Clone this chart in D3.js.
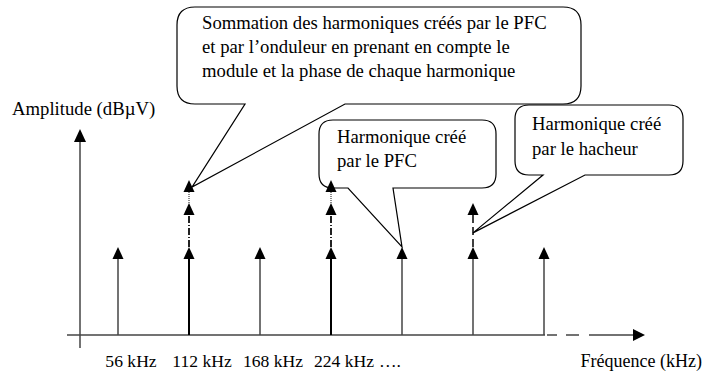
<!DOCTYPE html>
<html><head><meta charset="utf-8">
<script src="https://cdn.jsdelivr.net/npm/d3@7"></script>
<style>
html,body{margin:0;padding:0;background:#fff;}
</style></head>
<body><svg id="chart" width="704" height="374"></svg>
<script>
// ---- data ----
const harmonicFreqs = [56, 112, 168, 224, 280, 336, 392];        // kHz
const baseAmplitude = [1, 1, 1, 1, 1, 1, 1];                      // single harmonic level
const pfcSumLevel1  = [0, 1.5, 0, 1.5, 0, 0, 0];                  // summed (PFC + onduleur), step 1
const pfcSumLevel2  = [0, 1.76, 0, 1.76, 0, 0, 0];                // summed, module+phase
const hacheurLevel  = [0, 0, 0, 0, 0, 1.5, 0];                    // harmonic from hacheur
const tickLabels    = ["56 kHz", "112 kHz", "168 kHz", "224 kHz"];
const tickLabelFreqs = [56, 112, 168, 224];
const yAxisTitle = "Amplitude (dBµV)";
const xAxisTitle = "Fréquence (kHz)";
const calloutTexts = [
  ["Sommation des harmoniques créés par le PFC", "et par l’onduleur en prenant en compte le", "module et la phase de chaque harmonique"],
  ["Harmonique créé", "par le PFC"],
  ["Harmonique créé", "par le hacheur"]
];

const FONT = "'Liberation Serif', 'Times New Roman', Times, 'DejaVu Serif', serif";
const FS = 18.7;

// ---- scales ----
const svg = d3.select("#chart");
const x = d3.scaleLinear().domain([56, 392]).range([118, 544]);
const y = d3.scaleLinear().domain([0, 2.34]).range([335, 129]);
const yAxisX = 80;

function txt(g, tx, ty, s, fs) {
  return g.append("text").attr("x", tx).attr("y", ty)
    .attr("font-family", FONT).attr("font-size", fs || FS).attr("fill", "#000").text(s);
}

function arrowHead(g, cx, tipY, w, h, color) {
  g.append("path")
    .attr("d", `M${cx},${tipY} L${cx - w / 2},${tipY + h} L${cx + w / 2},${tipY + h} Z`)
    .attr("fill", color || "#000");
}

// ---- callouts ----
function callout(x0, y0, x1, y1, r, p1, p2, tip) {
  return `M${x0 + r},${y0} L${x1 - r},${y0} Q${x1},${y0} ${x1},${y0 + r} L${x1},${y1 - r} Q${x1},${y1} ${x1 - r},${y1}` +
    ` L${p2},${y1} L${tip[0]},${tip[1]} L${p1},${y1} L${x0 + r},${y1} Q${x0},${y1} ${x0},${y1 - r} L${x0},${y0 + r} Q${x0},${y0} ${x0 + r},${y0} Z`;
}
const cg = svg.append("g");
const callouts = [
  {box: [177, 7, 581, 104], r: 18, p: [245, 345], tip: [x(112) + 3, y(1.76) + 7], tx: 202, ty: [29, 53, 77], text: calloutTexts[0]},
  {box: [319, 120, 496, 188], r: 14, p: [348, 393], tip: [x(280), y(1)], tx: 337, ty: [143, 167], text: calloutTexts[1]},
  {box: [515, 105, 683, 175], r: 14, p: [543, 585], tip: [x(336), y(1.16)], tx: 532, ty: [130, 155], text: calloutTexts[2]}
];
callouts.forEach(c => {
  cg.append("path").attr("d", callout(c.box[0], c.box[1], c.box[2], c.box[3], c.r, c.p[0], c.p[1], c.tip))
    .attr("fill", "#fff").attr("stroke", "#000").attr("stroke-width", 1.2);
  c.text.forEach((t, i) => txt(cg, c.tx, c.ty[i], t));
});

// ---- axes ----
const ag = svg.append("g");
ag.append("line").attr("x1", 67).attr("x2", 545).attr("y1", y(0)).attr("y2", y(0)).attr("stroke", "#444").attr("stroke-width", 1.5);
ag.append("line").attr("x1", 547).attr("x2", 633).attr("y1", y(0)).attr("y2", y(0))
  .attr("stroke", "#444").attr("stroke-width", 1.5).attr("stroke-dasharray", "10,9,13,10,60");
ag.append("path").attr("d", `M645,${y(0)} L633,${y(0) - 6} L633,${y(0) + 6} Z`).attr("fill", "#000");
ag.append("line").attr("x1", yAxisX).attr("x2", yAxisX).attr("y1", 348).attr("y2", y(2.34) + 10).attr("stroke", "#444").attr("stroke-width", 1.5);
arrowHead(ag, yAxisX, y(2.34), 12, 13);

// ---- stems ----
const sg = svg.append("g");
const headH = 12, headW = 11;
harmonicFreqs.forEach((f, i) => {
  const cx = x(f);
  const summed = pfcSumLevel1[i] > 0;
  sg.append("line").attr("x1", cx).attr("x2", cx).attr("y1", y(0)).attr("y2", y(baseAmplitude[i]) + headH)
    .attr("stroke", summed ? "#000" : "#444").attr("stroke-width", summed ? 2 : 1.5);
  arrowHead(sg, cx, y(baseAmplitude[i]), headW, headH);
  if (summed) {
    sg.append("line").attr("x1", cx).attr("x2", cx).attr("y1", y(baseAmplitude[i])).attr("y2", y(pfcSumLevel1[i]) + headH)
      .attr("stroke", "#222").attr("stroke-width", 2).attr("stroke-dasharray", "7,2,1,2");
    arrowHead(sg, cx, y(pfcSumLevel1[i]), headW, headH);
    sg.append("line").attr("x1", cx).attr("x2", cx).attr("y1", y(pfcSumLevel1[i])).attr("y2", y(pfcSumLevel2[i]) + headH)
      .attr("stroke", "#666").attr("stroke-width", 1.5).attr("stroke-dasharray", "1,1");
    arrowHead(sg, cx, y(pfcSumLevel2[i]), headW, headH);
  }
  if (hacheurLevel[i] > 0) {
    sg.append("line").attr("x1", cx).attr("x2", cx).attr("y1", y(baseAmplitude[i])).attr("y2", y(hacheurLevel[i]) + headH)
      .attr("stroke", "#000").attr("stroke-width", 1.5).attr("stroke-dasharray", "8,4");
    arrowHead(sg, cx, y(hacheurLevel[i]), headW, headH);
  }
});

// ---- labels ----
const lg = svg.append("g");
tickLabels.forEach((t, i) => {
  txt(lg, x(tickLabelFreqs[i]) + 13, 367, t, 17.6).attr("text-anchor", "middle");
});
txt(lg, 379, 367, "….", 17.6);
txt(lg, 702, 367, xAxisTitle, 18).attr("text-anchor", "end");
txt(lg, 12, 115, yAxisTitle);
</script></body></html>
